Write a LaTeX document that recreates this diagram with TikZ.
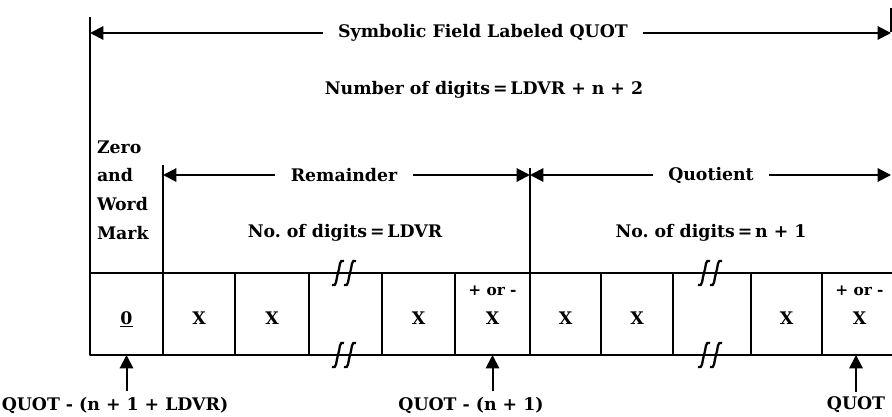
\documentclass[tikz,border=0pt]{standalone}
\usepackage{fontspec}
\setmainfont{DejaVu Serif}
\usetikzlibrary{arrows.meta}

% two slanted strokes marking the break in a cell row
\newcommand{\brkstroke}[2]{%
  \draw[line width=1.7pt] (#1-6,#2+12) .. controls (#1-1,#2+15) and (#1-2,#2+5) .. (#1,#2)
    .. controls (#1+2,#2-5) and (#1+1,#2-15) .. (#1+6,#2-12);}
\newcommand{\brkmark}[2]{\brkstroke{#1-6}{#2}\brkstroke{#1+6}{#2}}

\begin{document}
\begin{tikzpicture}[x=0.75pt,y=-0.75pt,>={Triangle[length=10pt,width=10pt]},line width=1.5pt,
    font=\bfseries\fontsize{13}{16}\selectfont,line join=round]
	\tikzset{cell/.style={draw,minimum height=61.5pt,outer sep=0pt,inner sep=0pt,text height=15pt,text depth=0pt},
		lbl/.style={inner xsep=11pt,inner ysep=2pt},
		pm/.style={font=\bfseries\fontsize{11.5}{13}\selectfont,inner sep=0pt}}
	\useasboundingbox (0,0) rectangle (892,417);
	
	% --- Vertical bounds ---
	\coordinate (topL) at (90,33);
	\coordinate (topR) at (891,33);
	\coordinate (remL) at (163,175);
	\coordinate (mid) at (530,175);
	\coordinate (quoR) at (891,175);
	\draw (90,17)--(90,273);
	\draw (163,165)--(163,273);
	\draw (530,168)--(530,273);
	\draw (891,8)--(891,32);
	
	% --- Field widths ---
	\node[lbl] (sym) at (483,33) {Symbolic Field Labeled QUOT};
	\draw[->] (sym.west)--(topL);
	\draw[->] (sym.east)--(topR);
	\node (ndig) at (484,90) {Number of digits\,=\,LDVR + n + 2};
	
	\node[lbl] (rem) at (344,175) {Remainder};
	\draw[->] (rem.west)--(remL);
	\draw[->] (rem.east)--(mid);
	\node[lbl] (quo) at (711,175) {Quotient};
	\draw[->] (quo.west)--(mid);
	\draw[->] (quo.east)--(quoR);
	
	\node[anchor=west,align=left,font=\bfseries\fontsize{13}{21.5}\selectfont,inner sep=0pt] (zero) at (96,190) {Zero\\and\\Word\\Mark};
	\node (rdig) at (345,233) {No.\ of digits\,=\,LDVR};
	\node (qdig) at (711,233) {No.\ of digits\,=\,n + 1};
	
	% --- Cells ---
	\foreach \a/\b/\n/\t in {90/163/c1/\underline{0},163/235/c2/X,235/309/c3/X,309/382/c4/,
			382/455/c5/X,455/530/c6/X,530/601/c7/X,601/673/c8/X,673/751/c9/,751/822/c10/X,822/897/c11/X}
		\node[cell,minimum width={(\b-\a)*0.75pt}] (\n) at ({(\a+\b)/2},314) {\t};
	\node[pm] (s6) at ([yshift=-13pt]c6.north) {+ or -};
	\node[pm] (s11) at ([yshift=-13pt]c11.north) {+ or -};
	\brkmark{344}{273}
	\brkmark{344}{355}
	\brkmark{710}{273}
	\brkmark{710}{355}
	
	% --- Addresses ---
	\node (q1) at (115,405) {QUOT - (n + 1 + LDVR)};
	\node (q2) at (471,405) {QUOT - (n + 1)};
	\node (q3) at (856,405) {QUOT};
	\draw[->] (c1.south |- q1.north)--(c1.south);
	\draw[->] (c6.south |- q2.north)--(c6.south);
	\draw[->] (q3.north)--(q3.north |- c11.south);
\end{tikzpicture}
\end{document}
